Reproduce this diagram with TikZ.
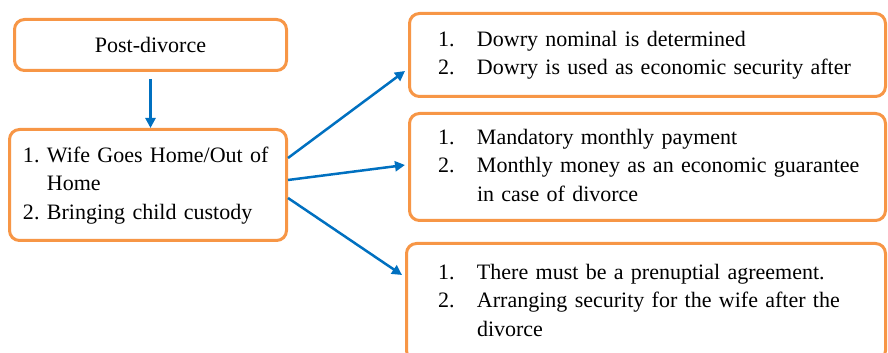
\documentclass[tikz,border=0pt]{standalone}
\usepackage{fontspec}
\setmainfont{Liberation Serif}
\usepackage{tikz}
\usetikzlibrary{arrows.meta}
\usetikzlibrary{calc}
\usetikzlibrary{positioning}
\definecolor{boxorange}{HTML}{F79646}
\definecolor{arrowblue}{HTML}{0070C0}

\begin{document}
\begin{tikzpicture}[x=1pt, y=1pt,
    box/.style={draw=boxorange, line width=3pt, rounded corners=10pt, fill=white,
        inner ysep=0pt, align=left, font=\fontsize{22}{28.5}\selectfont},
    link/.style={draw=arrowblue, line width=2.5pt, -{Triangle[length=10pt, width=10pt]}}]
            \useasboundingbox (0,0) rectangle (888,353);
            \draw (150.5,308) node[box, minimum width=272pt, minimum height=51pt, align=center]   (post) {Post-divorce};
            \draw (148,168) node[box, minimum height=111pt, text width=250pt, inner xsep=13.5pt] (wife)
                {\begin{tabular}{@{}p{24pt}@{}l@{}}1. & Wife Goes Home/Out of\\ & Home\\ 2. & Bringing child custody\end{tabular}};
            \draw (647.5,298) node[box, minimum height=83pt, text width=419pt, inner xsep=28.5pt] (dowry)
                {\begin{tabular}{@{}p{39pt}@{}l@{}}1. & Dowry nominal is determined\\ 2. & Dowry is used as economic security after\end{tabular}};
            \draw (647.5,186) node[box, minimum height=107pt, text width=419pt, inner xsep=28.5pt] (monthly)
                {\begin{tabular}{@{}p{39pt}@{}l@{}}1. & Mandatory monthly payment\\ 2. & Monthly money as an economic guarantee\\ & in case of divorce\end{tabular}};
            \draw (646,51) node[box, minimum height=117pt, text width=416pt, inner xsep=31.5pt] (prenup)
                {\begin{tabular}{@{}p{39pt}@{}l@{}}1. & There must be a prenuptial agreement.\\ 2. & Arranging security for the wife after the\\ & divorce\end{tabular}};
            \draw[link, shorten <=7pt] (post.south) -- (post.south |- wife.north);
            \draw[link] ([yshift=27pt]wife.east) -- ([xshift=-3pt, yshift=-16pt]dowry.west);
            \draw[link] ([yshift=5pt]wife.east) -- ([xshift=-3pt, yshift=2pt]monthly.west);
            \draw[link] ([yshift=-13pt]wife.east) -- ([xshift=-3pt, yshift=27pt]prenup.west);

            \end{tikzpicture}
\end{document}
